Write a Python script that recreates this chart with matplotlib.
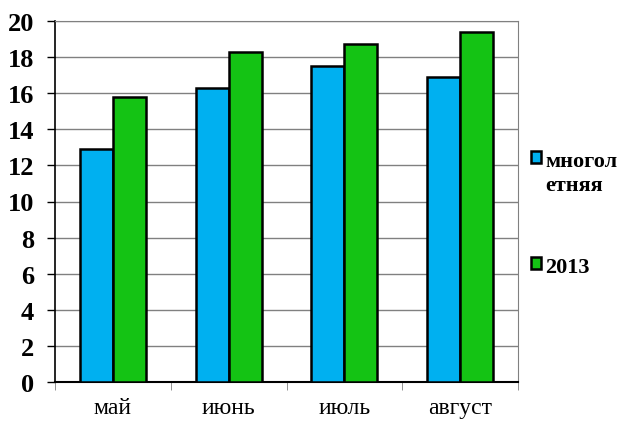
import matplotlib.pyplot as plt
import numpy as np

months = ['май', 'июнь', 'июль', 'август']
longterm = [12.9, 16.3, 17.5, 16.9]
y2013 = [15.8, 18.3, 18.7, 19.4]
series_names = ['многол\nетняя', '2013']

plt.rcParams['font.family'] = ['Liberation Serif', 'DejaVu Serif']

fig = plt.figure(figsize=(6.19, 4.27), dpi=100)
ax = fig.add_axes([55 / 619, 44 / 427, 463 / 619, 361 / 427])

x = np.arange(len(months))
w = 0.285
ax.bar(x - w / 2, longterm, w, color='#00b0f0', edgecolor='black', linewidth=1.8,
       label=series_names[0], zorder=3)
ax.bar(x + w / 2, y2013, w, color='#14c314', edgecolor='black', linewidth=1.8,
       label=series_names[1], zorder=3)

ax.set_xlim(-0.5, len(months) - 0.5)
ax.set_ylim(0, 20)
ax.set_yticks(np.arange(0, 21, 2))
ax.yaxis.grid(True, color='#808080', linewidth=1, zorder=0)
ax.set_axisbelow(True)

for lbl in ax.get_yticklabels():
    lbl.set_fontweight('bold')
ax.tick_params(axis='y', labelsize=19, length=6, width=1, color='black', pad=9)

ax.set_xticks(x)
ax.set_xticklabels(months, fontsize=17)
ax.set_xticks(np.arange(-0.5, len(months)), minor=True)
ax.tick_params(axis='x', which='major', length=0, pad=11)
ax.tick_params(axis='x', which='minor', length=6, color='#808080')

ax.spines['left'].set_color('black')
ax.spines['left'].set_linewidth(1.2)
ax.spines['bottom'].set_color('black')
ax.spines['bottom'].set_linewidth(1.5)
ax.spines['top'].set_color('#808080')
ax.spines['right'].set_color('#808080')

leg = ax.legend(loc='center left', bbox_to_anchor=(1.008, 0.465), frameon=False,
                prop={'weight': 'bold', 'size': 16}, handlelength=0.45, handleheight=0.45,
                handletextpad=0.2, labelspacing=2.8, borderaxespad=0)
# marker next to the first line of a wrapped label, like Excel does
for col in leg._legend_handle_box.get_children():
    for row in col.get_children():
        row.align = 'top'
for t in leg.get_texts():
    t.set_linespacing(1.3)

fig.savefig('out.png', dpi=100)
